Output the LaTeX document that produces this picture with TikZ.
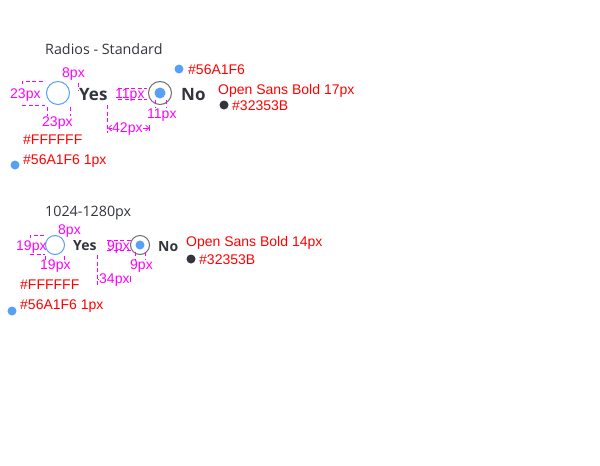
\documentclass[tikz,border=0pt]{standalone}
\usepackage{fontspec}
\setmainfont{Open Sans}
\newfontfamily\notefont{Liberation Sans}
\usetikzlibrary{arrows.meta,positioning,calc}
\definecolor{radioblue}{HTML}{56A1F6}
\definecolor{labeldark}{HTML}{32353B}
\definecolor{ringgray}{RGB}{110,110,112}
\definecolor{notered}{RGB}{255,0,0}
\definecolor{dimpink}{RGB}{255,0,255}
\tikzset{
  radiooff/.style={circle, draw=radioblue, fill=white, line width=1pt, inner sep=0pt},
  radioon/.style={circle, draw=ringgray, fill=white, line width=1pt, inner sep=0pt},
  radiodot/.style={circle, fill=radioblue, inner sep=0pt},
  optlbl/.style={anchor=base west, inner sep=0pt, text=labeldark, font=\bfseries},
  headlbl/.style={anchor=base west, inner sep=0pt, text=labeldark, font=\fontsize{14.3}{17}\selectfont},
  note/.style={anchor=base west, inner sep=0pt, text=notered, font=\notefont\fontsize{14}{16}\selectfont},
  dimtxt/.style={anchor=base west, inner sep=0pt, text=dimpink, font=\notefont\fontsize{14}{16}\selectfont},
  dimline/.style={draw=dimpink, line width=0.8pt, dash pattern=on 4pt off 2.5pt},
  dimarrow/.style={draw=dimpink, line width=0.8pt},
  swatch/.style={circle, inner sep=0pt, minimum size=9pt},
}

\begin{document}
\begin{tikzpicture}[x=1pt, y=-1pt]
  \useasboundingbox (0,0) rectangle (600,466);

  % --- standard size ---
  \node[headlbl] (headA) at (45,54) {Radios - Standard};
  \node[radiooff, minimum size=23pt] (yesA) at (58,93) {};
  \node[optlbl, font=\bfseries\fontsize{17}{20}\selectfont] (yesAtxt) at (79,100) {Yes};
  \node[radioon, minimum size=23pt] (noA) at (160,93) {};
  \node[radiodot, minimum size=11pt] (noAdot) at (noA.center) {};
  \node[optlbl, font=\bfseries\fontsize{17}{20}\selectfont] (noAtxt) at (181,100) {No};

  \node[swatch, fill=radioblue] (blueA) at (179,69) {};
  \node[note] (blueAtxt) at (188,74) {\#56A1F6};
  \node[note] (fontA) at (218,94) {Open Sans Bold 17px};
  \node[swatch, fill=labeldark] (darkA) at (224,105) {};
  \node[note] (darkAtxt) at (232,110) {\#32353B};
  \node[note] (whiteA) at (23,144) {\#FFFFFF};
  \node[swatch, fill=radioblue] (strokeA) at (15,165) {};
  \node[note] (strokeAtxt) at (23,164) {\#56A1F6 1px};

  % dimensions
  \draw[dimline] (22,84) -- (22,81) -- (45,81) (22,105) -- (45,105);
  \draw[dimline] (47,107) -- (47,116) (70,107) -- (70,116);
  \draw[dimline] (78,83) -- (78,90);
  \draw[dimline] (118,88) -- (147,88) (118,99) -- (147,99);
  \draw[dimline] (155,100) -- (155,107) (166,100) -- (166,107);
  \draw[dimline] (107,105) -- (107,133);
  \draw[dimarrow, {Straight Barb[length=3pt]}-{Straight Barb[length=3pt] Bar[width=6pt]}] (108,128) -- (150,128);
  \node[dimtxt] (gapA) at (62,77) {8px};
  \node[dimtxt] (hA) at (10,98) {23px};
  \node[dimtxt] (wA) at (42,126) {23px};
  \node[dimtxt] (dotAh) at (115,98) {11px};
  \node[dimtxt] (dotAw) at (147,118) {11px};
  \node[dimtxt, fill=white] (stepA) at (112,132) {42px};

  % --- 1024-1280px ---
  \node[headlbl] (headB) at (45,216) {1024-1280px};
  \node[radiooff, minimum size=19pt] (yesB) at (55,245) {};
  \node[optlbl, font=\bfseries\fontsize{14}{17}\selectfont] (yesBtxt) at (73,250) {Yes};
  \node[radioon, minimum size=19pt] (noB) at (140,245) {};
  \node[radiodot, minimum size=9pt] (noBdot) at (noB.center) {};
  \node[optlbl, font=\bfseries\fontsize{14}{17}\selectfont] (noBtxt) at (158,251) {No};

  \node[note] (fontB) at (186,246) {Open Sans Bold 14px};
  \node[swatch, fill=labeldark] (darkB) at (191,259) {};
  \node[note] (darkBtxt) at (199,264) {\#32353B};
  \node[note] (whiteB) at (20,289) {\#FFFFFF};
  \node[swatch, fill=radioblue] (strokeB) at (12,311) {};
  \node[note] (strokeBtxt) at (20,309) {\#56A1F6 1px};

  % dimensions
  \draw[dimline] (30,238) -- (30,235) -- (45,235) (30,254) -- (45,254);
  \draw[dimline] (45,256) -- (45,261) (64,256) -- (64,261);
  \draw[dimline] (107,240) -- (131,240) (107,250) -- (131,250);
  \draw[dimline] (135,252) -- (135,259) (145,252) -- (145,259);
  \draw[dimline] (97,255) -- (97,286);
  \draw[dimarrow, -{Bar[width=6pt]}] (98,279) -- (131,279);
  \node[dimtxt] (gapB) at (58,234) {8px};
  \node[dimtxt] (hB) at (16,250) {19px};
  \node[dimtxt] (wB) at (40,269) {19px};
  \node[dimtxt] (dotBh) at (107,250) {9px};
  \node[dimtxt] (dotBw) at (130,269) {9px};
  \node[dimtxt, fill=white] (stepB) at (99,283) {34px};
\end{tikzpicture}
\end{document}
